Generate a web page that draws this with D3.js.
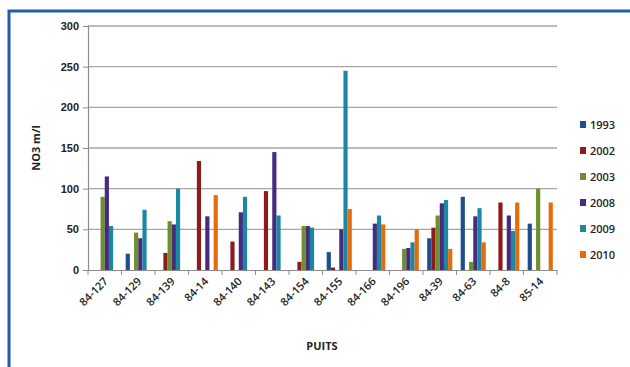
<!DOCTYPE html>
<html>
<head>
<meta charset="utf-8">
<script src="https://cdn.jsdelivr.net/npm/d3@7"></script>
<style>
  html, body { margin: 0; padding: 0; background: #fff; }
  svg { display: block; font-family: "Open Sans", "Noto Sans", sans-serif; }
</style>
</head>
<body>
<svg id="chart" width="630" height="367"></svg>
<script>
// Wells (puits) along the x axis
const categories = ["84-127", "84-129", "84-139", "84-14", "84-140", "84-143", "84-154",
                    "84-155", "84-166", "84-196", "84-39", "84-63", "84-8", "85-14"];
// Sampling years, one series each
const years = ["1993", "2002", "2003", "2008", "2009", "2010"];
const colors = ["#1F4E8D", "#8E1B1B", "#6F8F2E", "#452C7E", "#1C87A3", "#E46C0A"];

// NO3 values per year (null = no measurement)
const v1993 = [null, 20, null, null, null, null, null, 22, null, null, 39, 90, null, 57];
const v2002 = [null, null, 21, 134, 35, 97, 10, 3, null, null, 52, null, 83, null];
const v2003 = [90, 46, 60, null, null, null, 54, null, null, 26, 67, 10, null, 100];
const v2008 = [115, 39, 56, 66, 71, 145, 54, 50, 57, 27, 82, 66, 67, null];
const v2009 = [54, 74, 100, null, 90, 67, 52, 245, 67, 34, 86, 76, 48, null];
const v2010 = [null, null, null, 92, null, null, null, 75, 56, 50, 26, 34, 83, 83];
const seriesValues = [v1993, v2002, v2003, v2008, v2009, v2010];

const yTicks = [0, 50, 100, 150, 200, 250, 300];

(function draw() {
  const svg = d3.select("#chart");

  // outer frame
  svg.append("rect")
    .attr("x", 9).attr("y", 11).attr("width", 640).attr("height", 380)
    .attr("fill", "#fff").attr("stroke", "#1F5EA8").attr("stroke-width", 3);

  const plotL = 88, plotR = 557, plotT = 26, plotB = 270;

  const x = d3.scaleBand().domain(categories).range([plotL, plotR]).paddingInner(0).paddingOuter(0);
  const x1 = d3.scaleBand().domain(years).range([0, x.bandwidth()]).paddingOuter(1).paddingInner(0);
  const y = d3.scaleLinear().domain([0, 300]).range([plotB, plotT]);

  // horizontal gridlines
  svg.append("g").selectAll("line").data(yTicks.filter(d => d > 0)).join("line")
    .attr("x1", plotL).attr("x2", plotR)
    .attr("y1", d => y(d)).attr("y2", d => y(d))
    .attr("stroke", "#A6A6A6").attr("stroke-width", 1.3);

  // bars
  const data = [];
  categories.forEach((c, i) => {
    years.forEach((yr, j) => {
      const v = seriesValues[j][i];
      if (v != null) data.push({ c, yr, v, color: colors[j] });
    });
  });
  svg.append("g").selectAll("rect").data(data).join("rect")
    .attr("x", d => x(d.c) + x1(d.yr))
    .attr("width", x1.bandwidth())
    .attr("y", d => y(d.v))
    .attr("height", d => y(0) - y(d.v))
    .attr("fill", d => d.color);

  // y axis
  const yAxis = svg.append("g").attr("transform", `translate(${plotL},0)`)
    .call(d3.axisLeft(y).tickValues(yTicks).tickSize(5).tickPadding(4));
  yAxis.select(".domain").attr("stroke", "#8C8C8C").attr("stroke-width", 1.2);
  yAxis.selectAll(".tick line").attr("stroke", "#8C8C8C");
  yAxis.selectAll(".tick text").attr("fill", "#222").style("font-size", "11px").style("font-weight", "600");

  // x axis
  const xAxis = svg.append("g").attr("transform", `translate(0,${plotB})`)
    .call(d3.axisBottom(x).tickSize(0).tickFormat(""));
  xAxis.select(".domain").attr("stroke", "#8C8C8C").attr("stroke-width", 1.2);
  // category boundary ticks
  const bounds = d3.range(categories.length + 1).map(i => plotL + i * x.bandwidth());
  svg.append("g").selectAll("line").data(bounds).join("line")
    .attr("x1", d => d).attr("x2", d => d)
    .attr("y1", plotB).attr("y2", plotB + 5)
    .attr("stroke", "#8C8C8C").attr("stroke-width", 1);

  // rotated category labels
  svg.append("g").selectAll("text").data(categories).join("text")
    .attr("transform", d => `translate(${x(d) + x.bandwidth() / 2 + 4},${plotB + 12}) rotate(-45)`)
    .attr("text-anchor", "end")
    .attr("fill", "#222")
    .style("font-size", "11px").style("font-weight", "600")
    .text(d => d);

  // axis titles
  svg.append("text")
    .attr("transform", `translate(40,148) rotate(-90)`)
    .attr("text-anchor", "middle")
    .attr("fill", "#222").style("font-size", "11px").style("font-weight", "700")
    .text("NO3 m/l");
  svg.append("text")
    .attr("x", 322).attr("y", 350)
    .attr("text-anchor", "middle")
    .attr("fill", "#222").style("font-size", "11px").style("font-weight", "700")
    .text("PUITS");

  // legend
  const legend = svg.append("g").selectAll("g").data(years).join("g")
    .attr("transform", (d, i) => `translate(580,${121 + i * 26})`);
  legend.append("rect").attr("width", 6).attr("height", 7).attr("fill", (d, i) => colors[i]);
  legend.append("text").attr("x", 10).attr("y", 8)
    .attr("fill", "#222").style("font-size", "11px").style("font-weight", "600")
    .text(d => d);
})();
</script>
</body>
</html>
